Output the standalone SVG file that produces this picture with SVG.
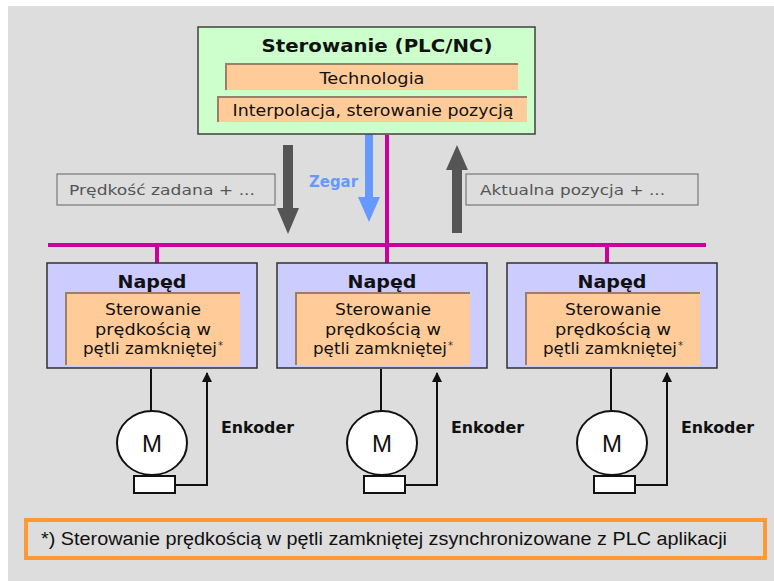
<svg xmlns="http://www.w3.org/2000/svg" width="774" height="581" viewBox="0 0 774 581">
  <defs>
    <style>
      text { font-family: "DejaVu Sans", Verdana, sans-serif; }
      .bg { fill: #dddddd; }
      .ctrl { fill: #ccffcc; stroke: #404040; stroke-width: 1.5; }
      .drive { fill: #ccccff; stroke: #303030; stroke-width: 1.5; }
      .func { fill: #ffcc99; }
      .funcEdge { fill: none; stroke: #9c7f66; stroke-width: 2; }
      .title { font-weight: bold; font-size: 17px; fill: #111; text-anchor: middle; }
      .label { font-size: 15px; fill: #111; text-anchor: middle; }
      .sig { fill: none; stroke: #777777; stroke-width: 1.2; }
      .sigText { font-size: 14.5px; fill: #555555; }
      .bus { stroke: #cc0099; stroke-width: 4; fill: none; }
      .wire { stroke: #111; stroke-width: 2; fill: none; }
      .motor { fill: #ffffff; stroke: #111; stroke-width: 2; }
    </style>
    <marker id="encArrow" viewBox="0 0 10 10" refX="9" refY="5" markerWidth="5" markerHeight="5" orient="auto">
      <path d="M0,0 L10,5 L0,10 z" fill="#111"/>
    </marker>
    <!-- one drive: box, functional block, motor with encoder feedback -->
    <g id="driveUnit">
      <rect class="drive" x="0" y="0" width="210" height="105"/>
      <text class="title" x="105" y="25" style="font-size:18px" textLength="69" lengthAdjust="spacingAndGlyphs">Napęd</text>
      <rect class="func" x="19" y="30" width="174" height="72"/>
      <polyline class="funcEdge" points="19,102 19,30 193,30"/>
      <text class="label" x="106" y="52" textLength="96" lengthAdjust="spacingAndGlyphs">Sterowanie</text>
      <text class="label" x="106" y="72" textLength="116" lengthAdjust="spacingAndGlyphs">prędkością w</text>
      <text class="label" x="103" y="91" textLength="134" lengthAdjust="spacingAndGlyphs">pętli zamkniętej</text>
      <text x="171" y="86" style="font-size:10px;fill:#333">*</text>
      <line class="wire" x1="104" y1="106" x2="104" y2="149"/>
      <ellipse class="motor" cx="105" cy="180" rx="35" ry="32"/>
      <text x="105" y="189" style="font-size:24px;fill:#111;text-anchor:middle;font-family:'Liberation Sans',Arial,sans-serif">M</text>
      <rect class="motor" x="87" y="213" width="41" height="17"/>
      <polyline class="wire" points="128,222 160,222 160,110" marker-end="url(#encArrow)"/>
      <text x="174" y="170" style="font-size:15px;font-weight:bold;fill:#111" textLength="73" lengthAdjust="spacingAndGlyphs">Enkoder</text>
    </g>
  </defs>

  <rect class="bg" x="8" y="6" width="766" height="575"/>

  <!-- connectors: bus, drops and signal arrows -->
  <g id="connectors">
    <line class="bus" x1="48" y1="245" x2="706" y2="245"/>
    <line class="bus" x1="387" y1="135" x2="387" y2="263"/>
    <line class="bus" x1="157" y1="245" x2="157" y2="263"/>
    <line class="bus" x1="607" y1="245" x2="607" y2="263"/>
    <!-- setpoint down -->
    <path d="M283,145 H293 V208 H299 L288,234 L277,208 H283 Z" fill="#555555"/>
    <!-- clock down -->
    <path d="M365,134 H373 V197 H380 L369,222 L358,197 H365 Z" fill="#6699ff"/>
    <!-- actual position up -->
    <path d="M452,233 H462 V170 H468 L457,145 L446,170 H452 Z" fill="#555555"/>
  </g>

  <g id="signal-setpoint">
    <rect class="sig" x="57" y="174" width="218" height="31"/>
    <text class="sigText" x="69" y="195" textLength="186" lengthAdjust="spacingAndGlyphs">Prędkość zadana + ...</text>
  </g>
  <g id="signal-clock">
    <text x="309" y="187" style="font-size:15px;font-weight:bold;fill:#6699ff" textLength="49" lengthAdjust="spacingAndGlyphs">Zegar</text>
  </g>
  <g id="signal-position">
    <rect class="sig" x="466" y="174" width="232" height="31"/>
    <text class="sigText" x="480" y="195" textLength="185" lengthAdjust="spacingAndGlyphs">Aktualna pozycja + ...</text>
  </g>

  <g id="controller">
    <rect class="ctrl" x="198" y="27" width="337" height="107"/>
    <text class="title" x="377" y="52" textLength="231" lengthAdjust="spacingAndGlyphs">Sterowanie (PLC/NC)</text>
    <rect class="func" x="226" y="64" width="292" height="26"/>
    <polyline class="funcEdge" points="226,90 226,64 518,64"/>
    <text class="label" x="372" y="84" textLength="105" lengthAdjust="spacingAndGlyphs">Technologia</text>
    <rect class="func" x="218" y="97" width="309" height="25"/>
    <polyline class="funcEdge" points="218,122 218,97 527,97"/>
    <text class="label" x="373" y="116" textLength="281" lengthAdjust="spacingAndGlyphs">Interpolacja, sterowanie pozycją</text>
  </g>

  <g id="drive1"><use href="#driveUnit" x="47" y="263"/></g>
  <g id="drive2"><use href="#driveUnit" x="277" y="263"/></g>
  <g id="drive3"><use href="#driveUnit" x="507" y="263"/></g>

  <g id="footnote">
    <rect x="26" y="520" width="739" height="38" fill="none" stroke="#ff9933" stroke-width="4"/>
    <text x="41" y="545" style="font-size:18px;fill:#111;font-family:'Liberation Sans',Arial,sans-serif" textLength="686" lengthAdjust="spacingAndGlyphs">*) Sterowanie prędkością w pętli zamkniętej zsynchronizowane z PLC aplikacji</text>
  </g>
</svg>
